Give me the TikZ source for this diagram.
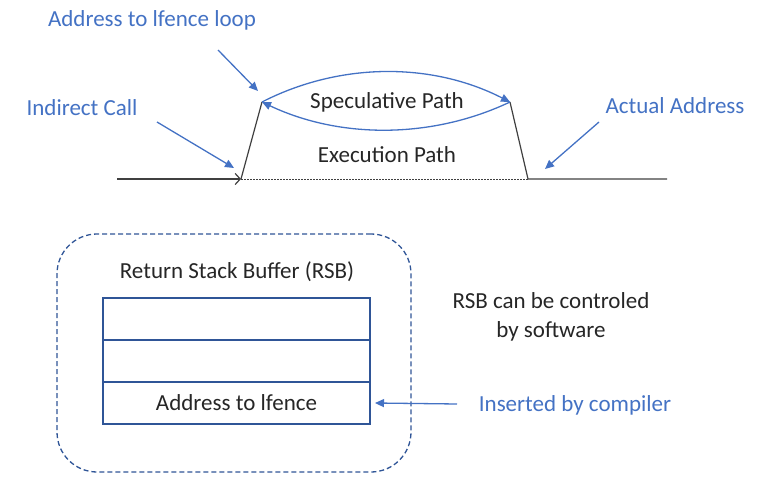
\documentclass[tikz,border=0pt]{standalone}
\usepackage{fontspec}
\setmainfont{Carlito}
\usepackage{xcolor}
\usepackage{tikz}
\usetikzlibrary{arrows.meta,positioning}
\definecolor{lblblue}{HTML}{4472C4}
\definecolor{boxblue}{HTML}{2F5597}

\begin{document}
\begin{tikzpicture}[x=1pt,y=-1pt,font=\fontsize{23}{29}\selectfont,
  lbl/.style={text=lblblue, inner sep=0pt},
  txt/.style={text=black!85, inner sep=0pt, align=center},
  ptr/.style={draw=lblblue, line width=1.3pt, -{Triangle[length=9pt,width=8pt]}},
  trk/.style={draw=black!75, line width=1.2pt},
  slot/.style={draw=boxblue, line width=1.3pt, outer sep=0pt, inner sep=0pt,
               minimum width=267pt, minimum height=42pt, text=black!85}]
\useasboundingbox (0,0) rectangle (761,487);
% --- execution path ---
\coordinate (in) at (117,179);
\coordinate (call) at (241,179);
\coordinate (lfL) at (262,102);
\coordinate (lfR) at (510,102);
\coordinate (ret) at (528,179);
\coordinate (out) at (667,179);
\draw[trk, -{Straight Barb[length=5pt,width=11pt]}] (in) -- (call);
\draw[trk, line width=1pt, dash pattern=on 1.5pt off 1.5pt] (call) -- (ret);
\draw[trk] (call) -- (lfL);
\draw[trk] (lfR) -- (ret) -- (out);
\draw[ptr] (lfL) .. controls (340,62) and (432,62) .. (lfR);
\draw[ptr] (lfR) .. controls (432,139) and (340,139) .. (lfL);
\node[txt] (spec) at (387,102) {Speculative Path};
\node[txt] (exec) at (387,155) {Execution Path};
% --- labels ---
\node[lbl] (lfloop) at (152,20) {Address to lfence loop};
\node[lbl] (icall) at (82,108) {Indirect Call};
\node[lbl] (actual) at (675,106) {Actual Address};
\coordinate (lfloopT) at (218,50);
\coordinate (lfloopH) at (258,91);
\coordinate (icallT) at (157,122);
\coordinate (icallH) at (234,168);
\coordinate (actualT) at (599,122);
\coordinate (actualH) at (545,169);
\draw[ptr] (lfloopT) -- (lfloopH);
\draw[ptr] (icallT) -- (icallH);
\draw[ptr] (actualT) -- (actualH);
% --- return stack buffer ---
\node[draw=boxblue, line width=1.3pt, dash pattern=on 5pt off 3pt, rounded corners=40pt,
      minimum width=354pt, minimum height=238pt] (rsbframe) at (234,353) {};
\node[txt] (rsbtitle) at (237,272) {Return Stack Buffer (RSB)};
\node[slot] (s1) at (236.5,319) {};
\node[slot, below=0pt of s1] (s2) {};
\node[slot, below=0pt of s2] (s3) {Address to lfence};
\node[txt] (ctrl) at (551,317) {RSB can be controled\\by software};
\node[lbl] (bycomp) at (575,405) {Inserted by compiler};
\coordinate (bycompT) at (457,404);
\draw[ptr] (bycompT) -- ([xshift=5pt]s3.east);
\end{tikzpicture}
\end{document}
